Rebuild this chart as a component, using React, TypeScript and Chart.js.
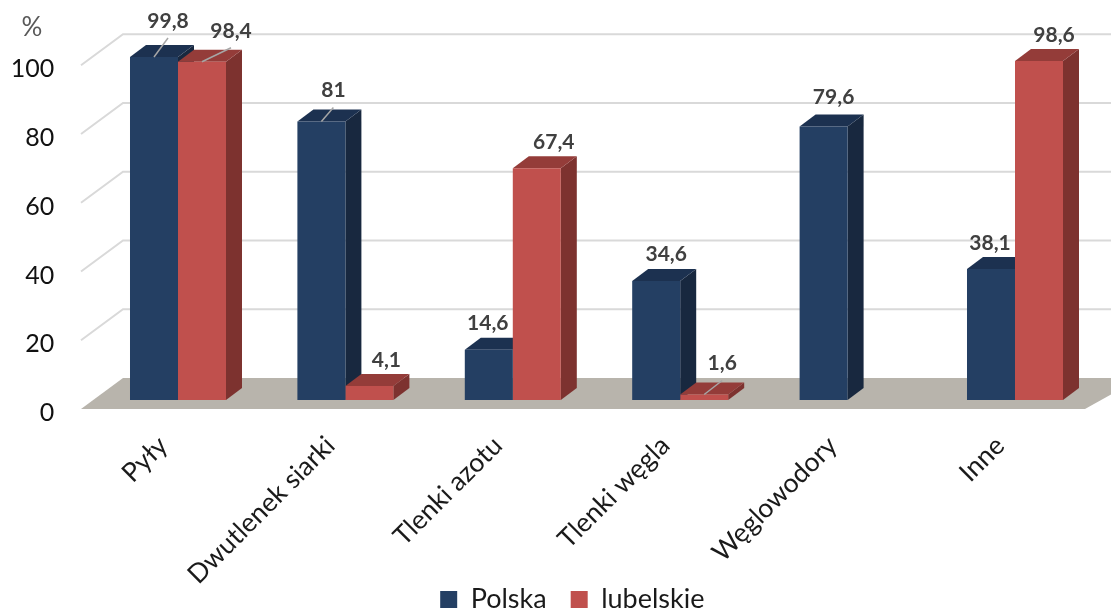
import React, { useEffect, useRef } from "react";
import { Chart, registerables } from "chart.js";

Chart.register(...registerables);

const categories = ["Pyły", "Dwutlenek siarki", "Tlenki azotu", "Tlenki węgla", "Węglowodory", "Inne"];
const polska = [99.8, 81, 14.6, 34.6, 79.6, 38.1];
const lubelskie = [98.4, 4.1, 67.4, 1.6, null, 98.6];
const yTicks = [0, 20, 40, 60, 80, 100];

const FONT = "Lato, Carlito, Calibri, sans-serif";
const pl = (v: number) => String(v).replace(".", ",");

// Depth of the pseudo-3D bars and floor, in pixels.
const BAR_DX = 16;
const BAR_DY = 12;
const WALL_LEFT = 123;
const FRONT_LEFT = 81;
const BACK_SHIFT = 22;
const FRONT_SHIFT = 9;

// Label offsets from the centre of each bar's top edge: [dx, dy, leader]
const labelOffsets: [number, number, boolean][][] = [
  [[14, -36, true], [12, -31, true], [-1, -27, false], [10, -27, false], [10, -29, false], [-1, -26, false]],
  [[29, -31, true], [17, -26, false], [17, -26, false], [18, -31, true], [0, 0, false], [15, -26, false]],
];
const shades = [
  { top: "#1c3150", side: "#18283f" },
  { top: "#943c39", side: "#7d322f" },
];

const scene3d = {
  id: "scene3d",
  afterLayout(chart: any) {
    // Place the legend as in the reference and let the rotated labels overflow.
    chart.legend.left = 46;
    chart.legend.top = 562;
    chart.scales.x.bottom = chart.height;
  },
  beforeDatasetsDraw(chart: any) {
    const { ctx, scales } = chart;
    const y = scales.y;
    const W = chart.width;
    const base = y.getPixelForValue(0);
    ctx.save();
    // floor
    ctx.fillStyle = "#b8b4ac";
    ctx.beginPath();
    ctx.moveTo(FRONT_LEFT, base + FRONT_SHIFT);
    ctx.lineTo(WALL_LEFT, base - BACK_SHIFT);
    ctx.lineTo(W + 30, base - BACK_SHIFT);
    ctx.lineTo(1085, base + FRONT_SHIFT);
    ctx.closePath();
    ctx.fill();
    // gridlines
    ctx.strokeStyle = "#d9d9d9";
    ctx.lineWidth = 2;
    yTicks.slice(1).forEach((t) => {
      const p = y.getPixelForValue(t);
      ctx.beginPath();
      ctx.moveTo(FRONT_LEFT, p + FRONT_SHIFT);
      ctx.lineTo(WALL_LEFT, p - BACK_SHIFT);
      ctx.lineTo(W, p - BACK_SHIFT);
      ctx.stroke();
    });
    // bar sides and tops
    [0, 1].forEach((ds) => {
      chart.getDatasetMeta(ds).data.forEach((bar: any, i: number) => {
        const v = chart.data.datasets[ds].data[i];
        if (v == null) return;
        const { x, y: top, width, base: b } = bar.getProps(["x", "y", "width", "base"], true);
        const l = x - width / 2;
        const r = x + width / 2;
        ctx.fillStyle = shades[ds].side;
        ctx.beginPath();
        ctx.moveTo(r, top);
        ctx.lineTo(r + BAR_DX, top - BAR_DY);
        ctx.lineTo(r + BAR_DX, b - BAR_DY);
        ctx.lineTo(r, b);
        ctx.closePath();
        ctx.fill();
        ctx.fillStyle = shades[ds].top;
        ctx.beginPath();
        ctx.moveTo(l, top);
        ctx.lineTo(l + BAR_DX, top - BAR_DY);
        ctx.lineTo(r + BAR_DX, top - BAR_DY);
        ctx.lineTo(r, top);
        ctx.closePath();
        ctx.fill();
      });
    });
    ctx.restore();
  },
  afterDatasetsDraw(chart: any) {
    const { ctx } = chart;
    ctx.save();
    [0, 1].forEach((ds) => {
      chart.getDatasetMeta(ds).data.forEach((bar: any, i: number) => {
        const v = chart.data.datasets[ds].data[i];
        if (v == null) return;
        const { x, y: top } = bar.getProps(["x", "y"], true);
        const [dx, dy, leader] = labelOffsets[ds][i];
        if (leader) {
          ctx.strokeStyle = "#a6a6a6";
          ctx.lineWidth = 1.5;
          ctx.beginPath();
          ctx.moveTo(x, top);
          ctx.lineTo(x + dx, top + dy + 17);
          ctx.stroke();
        }
        ctx.fillStyle = "#404040";
        ctx.font = `bold 21px ${FONT}`;
        ctx.textAlign = "center";
        ctx.textBaseline = "middle";
        ctx.fillText(pl(v), x + dx, top + dy);
      });
    });
    // unit
    ctx.fillStyle = "#595959";
    ctx.font = `26px ${FONT}`;
    ctx.textAlign = "center";
    ctx.textBaseline = "middle";
    ctx.fillText("%", 32, 28);
    ctx.restore();
  },
};

export default function App() {
  const ref = useRef<HTMLCanvasElement>(null);
  useEffect(() => {
    const chart = new Chart(ref.current!, {
      type: "bar",
      data: {
        labels: categories,
        datasets: [
          { label: "Polska", data: polska, backgroundColor: "#243f63" },
          { label: "lubelskie", data: lubelskie, backgroundColor: "#c0504d" },
        ],
      },
      options: {
        responsive: false,
        animation: false,
        categoryPercentage: 0.5735,
        barPercentage: 1,
        layout: { padding: { left: 0, right: 12.3, top: 56.3, bottom: 0 } },
        plugins: {
          tooltip: { enabled: false },
          legend: {
            position: "bottom",
            labels: {
              boxWidth: 17,
              boxHeight: 17,
              padding: 24,
              color: "#1a1a1a",
              font: { family: FONT, size: 27 },
            },
          },
        },
        scales: {
          x: {
            grid: { display: false, drawTicks: false },
            border: { display: false },
            ticks: {
              autoSkip: false,
              minRotation: 45,
              maxRotation: 45,
              padding: 30,
              labelOffset: -15,
              color: "#1a1a1a",
              font: { family: FONT, size: 26.5 },
            },
            afterFit(scale: any) {
              scale.height = 149;
            },
          },
          y: {
            min: 0,
            max: 100,
            grid: { display: false, drawTicks: false },
            border: { display: false },
            ticks: {
              stepSize: 20,
              padding: 40,
              labelOffset: 13,
              color: "#111111",
              font: { family: FONT, size: 25 },
            },
            afterFit(scale: any) {
              scale.width = 94.3;
            },
          },
        },
      },
      plugins: [scene3d],
    } as any);
    return () => chart.destroy();
  }, []);
  return (
    <canvas
      ref={ref}
      width={1111}
      height={610}
      style={{ position: "fixed", left: 0, top: 0, width: 1111, height: 610, display: "block" }}
    />
  );
}
